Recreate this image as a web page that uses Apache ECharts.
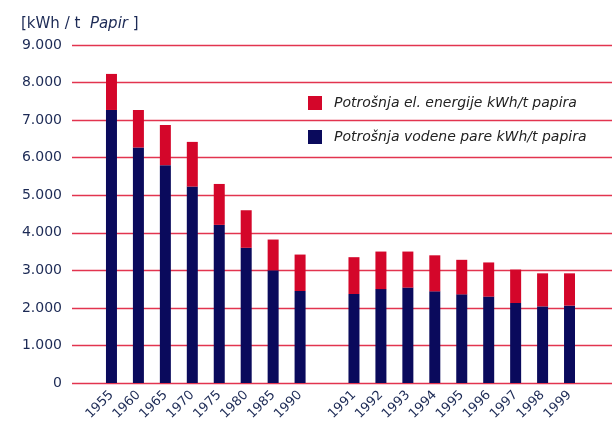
<!DOCTYPE html>
<html><head><meta charset="utf-8">
<script src="https://cdn.jsdelivr.net/npm/echarts@6/dist/echarts.min.js"></script>
<style>html,body{margin:0;padding:0;background:#fff}#c{width:612px;height:430px}</style>
</head><body><div id="c"></div>
<script>
const categories = ['1955','1960','1965','1970','1975','1980','1985','1990','','1991','1992','1993','1994','1995','1996','1997','1998','1999'];
const steamValues = [7270,6270,5800,5230,4210,3600,3000,2450,null,2370,2500,2540,2440,2360,2300,2130,2040,2060];
const electricValues = [960,1000,1070,1190,1090,1000,820,970,null,980,1000,960,960,920,910,890,880,860];
const yTicks = [0,1000,2000,3000,4000,5000,6000,7000,8000,9000];
const seriesNames = ['Potrošnja el. energije kWh/t papira','Potrošnja vodene pare kWh/t papira'];

const navy = '#0a0a5c', red = '#d4062a', textCol = '#1c2a55', gridCol = '#e2344f';
const chart = echarts.init(document.getElementById('c'));
chart.setOption({
  backgroundColor: '#ffffff',
  animation: false,
  title: {
    left: 16, top: 12,
    text: '{a|[kWh / t  }{b|Papir}{a| ]}',
    textStyle: { fontWeight: 'normal', rich: {
      a: { fontFamily: 'DejaVu Sans', fontSize: 15, fontWeight: 'normal', color: textCol },
      b: { fontFamily: 'DejaVu Sans', fontSize: 15, fontWeight: 'normal', fontStyle: 'italic', color: textCol }
    } }
  },
  legend: {
    data: seriesNames, orient: 'vertical', left: 303, top: 91,
    itemWidth: 14, itemHeight: 14, itemGap: 20, icon: 'rect',
    textStyle: { fontFamily: 'DejaVu Sans', fontStyle: 'italic', fontSize: 14, color: '#222', padding: [0,0,0,7] }
  },
  grid: [
    { left: 72, right: 0, top: 45, bottom: 47 },
    { left: 98, right: 29, top: 45, bottom: 47 }
  ],
  xAxis: [
    { gridIndex: 0, type: 'category', data: [], show: false },
    { gridIndex: 1, type: 'category', data: categories,
      axisLine: { show: false }, axisTick: { show: false },
      axisLabel: { interval: 0, rotate: 45, margin: 10, fontFamily: 'DejaVu Sans', fontSize: 13, color: textCol } }
  ],
  yAxis: [
    { gridIndex: 0, type: 'value', min: yTicks[0], max: yTicks[yTicks.length-1], interval: 1000,
      axisLine: { show: false }, axisTick: { show: false },
      axisLabel: { margin: 10, fontFamily: 'DejaVu Sans', fontSize: 14, color: textCol,
        formatter: v => v === 0 ? '0' : (v/1000) + '.000' },
      splitLine: { show: true, lineStyle: { color: gridCol, width: 1.3 } } },
    { gridIndex: 1, type: 'value', min: yTicks[0], max: yTicks[yTicks.length-1], interval: 1000, show: false,
      splitLine: { show: false } }
  ],
  series: [
    { name: seriesNames[1], type: 'bar', xAxisIndex: 1, yAxisIndex: 1, stack: 's', data: steamValues,
      barWidth: 11, itemStyle: { color: navy } },
    { name: seriesNames[0], type: 'bar', xAxisIndex: 1, yAxisIndex: 1, stack: 's', data: electricValues,
      barWidth: 11, itemStyle: { color: red } }
  ]
});
</script></body></html>
